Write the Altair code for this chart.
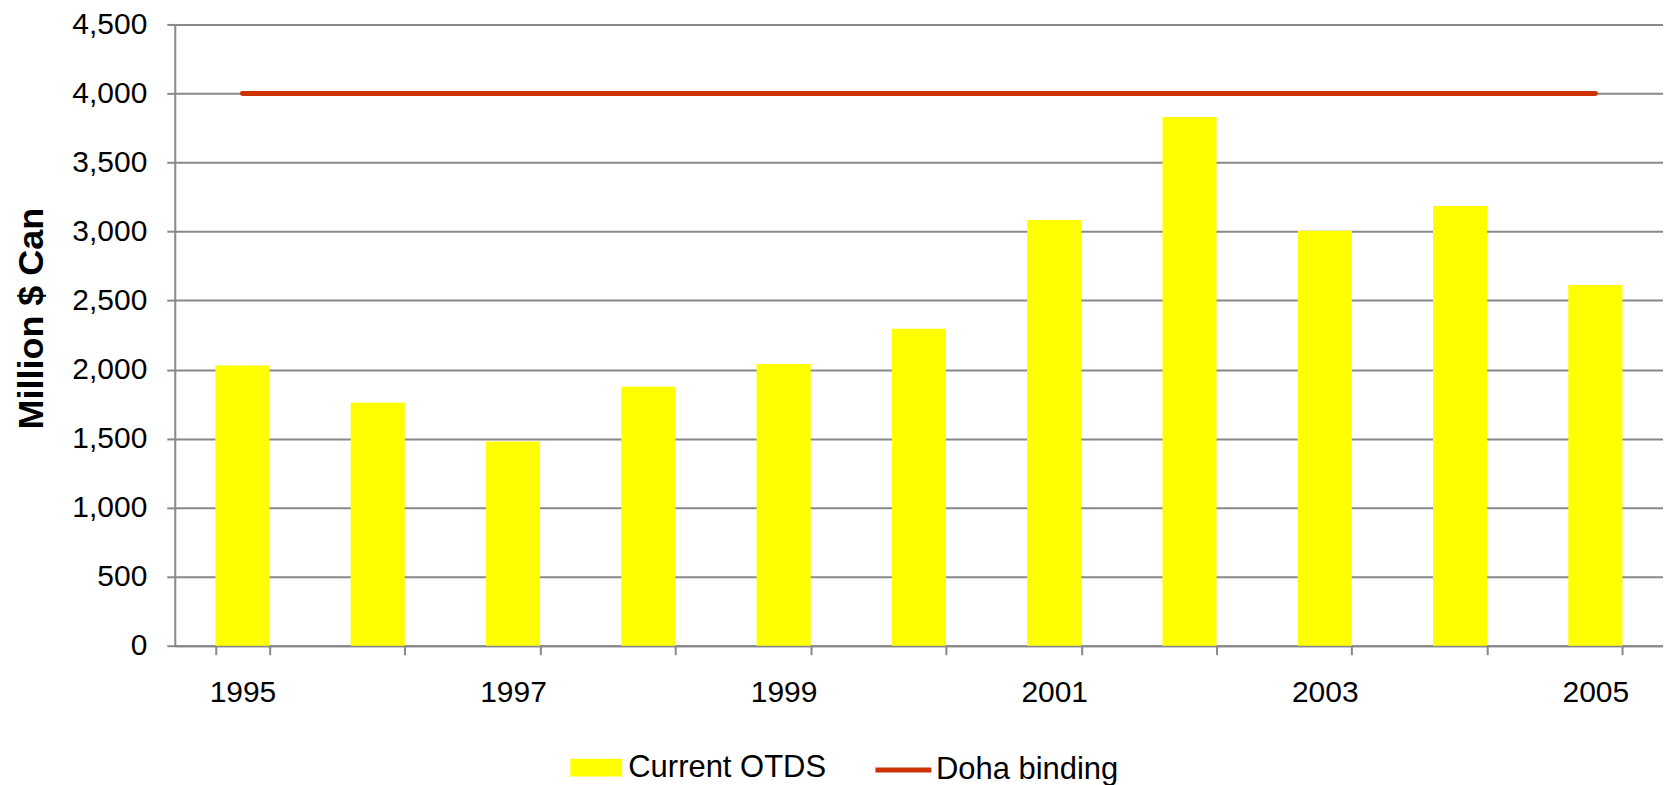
import altair as alt
import pandas as pd

years = ["1995", "1996", "1997", "1998", "1999", "2000", "2001", "2002", "2003", "2004", "2005"]
otds = [2030, 1760, 1480, 1875, 2040, 2296, 3084, 3830, 3006, 3185, 2613]
doha = [4000, 4000, 4000, 4000, 4000, 4000, 4000, 4000, 4000, 4000, 4000]
y_ticks = [0, 500, 1000, 1500, 2000, 2500, 3000, 3500, 4000, 4500]

bar_df = pd.DataFrame({"year": years, "value": otds, "s1": "Current OTDS"})
line_df = pd.DataFrame({"year": years, "value": doha, "s2": "Doha binding"})

FONT = "Liberation Sans"
GRAY = "#888888"

x_scale = alt.Scale(domain=years, paddingInner=0.6, paddingOuter=0.3)
y_scale = alt.Scale(domain=[0, 4500], nice=False)

x_axis = alt.Axis(
    title=None, tickBand="extent", labelAngle=0,
    labelExpr="toNumber(datum.value) % 2 == 1 ? datum.label : ''",
    labelFont=FONT, labelFontSize=30, labelColor="black", labelPadding=23,
    tickSize=9, tickColor=GRAY, tickWidth=2, domainColor=GRAY, domainWidth=2,
    grid=False,
)
y_axis = alt.Axis(
    title="Million $ Can", values=y_ticks, format=",.0f",
    titleFont=FONT, titleFontSize=36, titleFontWeight="bold", titleColor="black",
    titlePadding=21, titleY=294,
    labelFont=FONT, labelFontSize=30, labelColor="black", labelPadding=20,
    tickSize=8, tickColor=GRAY, tickWidth=2, domainColor=GRAY, domainWidth=2,
    grid=True, gridColor=GRAY, gridWidth=2,
)

bars = alt.Chart(bar_df).mark_bar(color="#FFFF00").encode(
    x=alt.X("year:N", scale=x_scale, axis=x_axis, sort=years),
    y=alt.Y("value:Q", scale=y_scale, axis=y_axis),
    fill=alt.Fill(
        "s1:N",
        scale=alt.Scale(domain=["Current OTDS"], range=["#FFFF00"]),
        legend=alt.Legend(
            title=None, orient="none", legendX=396, legendY=718, padding=0,
            symbolType="M-1,-0.34H1V0.34H-1Z", symbolSize=2704,
            symbolStrokeWidth=0, symbolOpacity=1, labelLimit=500,
            labelFont=FONT, labelFontSize=31, labelColor="black", labelOffset=6,
        ),
    ),
)

line = alt.Chart(line_df).mark_line(strokeWidth=5, strokeCap="round").encode(
    x=alt.X("year:N", scale=x_scale, sort=years, bandPosition=0.5),
    y=alt.Y("value:Q", scale=y_scale),
    stroke=alt.Stroke(
        "s2:N",
        scale=alt.Scale(domain=["Doha binding"], range=["#CC3300"]),
        legend=alt.Legend(
            title=None, orient="none", legendX=699, legendY=716, padding=0,
            symbolType="stroke", symbolSize=3136, symbolStrokeWidth=5,
            labelLimit=500,
            labelFont=FONT, labelFontSize=31, labelColor="black", labelOffset=2,
        ),
    ),
)

chart = alt.layer(bars, line).properties(
    width=1490, height=622,
    padding={"left": 5, "top": 1, "right": 0, "bottom": 0},
).configure_view(stroke=None).configure(background="white")

chart.save("out.html", embed_options={"renderer": "svg", "actions": False})
